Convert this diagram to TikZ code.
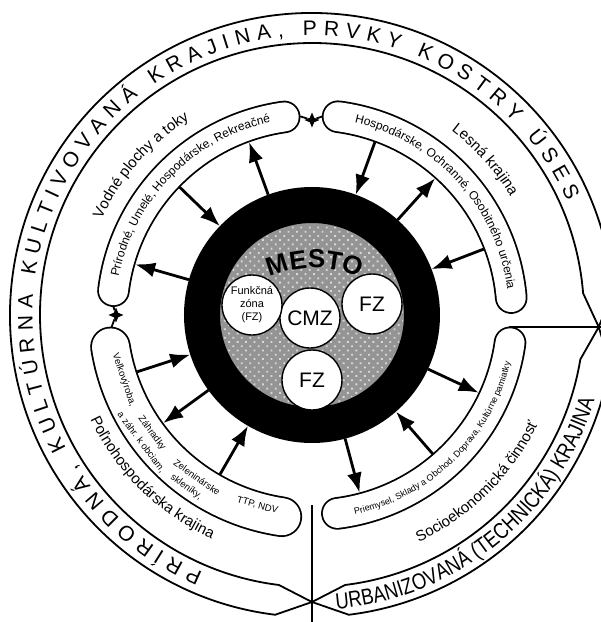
\documentclass[tikz,border=0pt]{standalone}
\usepackage{fontspec}
\setmainfont{Liberation Sans}
\newfontfamily\narrowfont[FakeStretch=0.82]{Liberation Sans}
\usetikzlibrary{arrows.meta,decorations.text,shapes.geometric,patterns.meta}
\newcommand\pasfont{\fontsize{21}{21}\selectfont}
\newcommand\urbfont{\narrowfont\fontsize{22.5}{23}\selectfont}
\newcommand\titlefont{\fontsize{15}{15}\selectfont}
\newcommand\listfont{\fontsize{12}{12}\selectfont}
\newcommand\malyfont{\fontsize{9}{9}\selectfont}
\newcommand\mestofont{\fontsize{26}{26}\selectfont\bfseries}
\begin{document}
\begin{tikzpicture}[x=1pt,y=1pt,>=Latex,
pas/.style={draw,line width=1.8pt,line join=round},
sausage/.style={double=white,double distance=29pt,line width=1.8pt,line cap=round},
flow/.style={-{Latex[length=20pt,width=15pt]},line width=2.8pt},
joint/.style={line width=1.8pt},
knot/.style={star,star points=4,star point ratio=2.4,fill=black,inner sep=0,minimum size=15pt},
zona/.style={circle,draw,fill=white,line width=1.4pt,minimum size=60pt,inner sep=0,font=\fontsize{21}{21}\selectfont},
polo/.style={inner sep=0,font=\fontsize{9.5}{10}\selectfont}]
\useasboundingbox (-312,-307) rectangle (289,315);
% vonkajsi pas
\draw[pas] (357.6:287pt) -- (4.6:272pt) arc[start angle=4.6,end angle=263,radius=272pt] -- (270:287pt) -- (263:302pt) arc[start angle=263,end angle=4.6,radius=302pt] -- cycle;
\draw[pas] (270:287pt) -- (277:272pt) arc[start angle=277,end angle=350.6,radius=272pt] -- (357.6:287pt) -- (350.6:302pt) arc[start angle=350.6,end angle=277,radius=302pt] -- cycle;
\coordinate (socTip) at (197,-12);
\coordinate (okrajR) at (300,-12);
\coordinate (dolTip) at (0,-190);
\coordinate (okrajD) at (0,-312);
\draw[joint] (socTip) -- (okrajR);
\draw[joint] (dolTip) -- (okrajD);
% vnutorne pasy
\draw[sausage] (98:200pt) arc[start angle=98,end angle=173,radius=200pt];
\draw[sausage] (5:200pt) arc[start angle=5,end angle=82.5,radius=200pt];
\draw[sausage] (-82.7:200pt) arc[start angle=-82.7,end angle=-8,radius=200pt];
\draw[sausage,double distance=37pt] (189:204pt) arc[start angle=189,end angle=261.5,radius=204pt];
\node[knot] (k1) at (90:195pt) {};
\node[knot] (k2) at (180:196pt) {};
\coordinate (vodT) at (93.4:199pt);
\coordinate (lesT) at (86.9:199pt);
\coordinate (vodL) at (177.4:199pt);
\coordinate (polL) at (183.6:201pt);
\draw[joint] (vodT) -- (k1) -- (lesT);
\draw[joint] (vodL) -- (k2) -- (polL);
% mesto
\node[circle,draw=black,line width=36pt,outer sep=18pt,fill=black!42,minimum size=220pt,inner sep=0] (mesto) at (0,0) {};
\fill[pattern={Dots[radius=1.3pt,distance=6pt,angle=45]},pattern color=white!85!black] (0,0) circle[radius=91pt];
\node[circle,minimum size=368pt,inner sep=0,outer sep=0] (pasy) at (0,0) {};
\node[zona] (cmz) at (-2,-3) {CMZ};
\node[zona] (fzp) at (60,11) {FZ};
\node[zona] (fzd) at (0,-65) {FZ};
\node[zona,font=\fontsize{11}{13}\selectfont,align=center] (fzl) at (-60,10) {Funkčná\\zóna\\(FZ)};
\path[decorate,decoration={text along path,text align=center,text={|\mestofont|MESTO}}] (3,-65) ++(135:112pt) arc[start angle=135,end angle=45,radius=112pt];
% sipky
\draw[flow] (pasy.136) -- (mesto.136);
\draw[flow] (mesto.110) -- (pasy.110);
\draw[flow] (mesto.164) -- (pasy.164);
\draw[flow] (pasy.70) -- (mesto.70);
\draw[flow] (mesto.48) -- (pasy.48);
\draw[flow] (pasy.21) -- (mesto.21);
\draw[flow] (mesto.335) -- (pasy.335);
\draw[flow] (pasy.311) -- (mesto.311);
\draw[flow] (mesto.285) -- (pasy.285);
\draw[flow] (pasy.198) -- (mesto.198);
\draw[flow] (mesto.216) -- (pasy.216);
\draw[flow] (pasy.240) -- (mesto.240);
% texty
\path[decorate,decoration={text along path,text align={fit to path},text={|\pasfont|PRÍRODNÁ, KULTÚRNA KULTIVOVANÁ KRAJINA, PRVKY KOSTRY ÚSES}}] (247:279.5pt) arc[start angle=247,end angle=24,radius=279.5pt];
\path[decorate,decoration={text along path,text align=center,text={|\urbfont|URBANIZOVANÁ (TECHNICKÁ) KRAJINA}}] (-86:295pt) arc[start angle=-86,end angle=-16,radius=295pt];
\path[decorate,decoration={text along path,text align=center,text={|\titlefont|Vodné plochy a toky}}] (168.8:231pt) arc[start angle=168.8,end angle=108.8,radius=231pt];
\path[decorate,decoration={text along path,text align=center,text={|\titlefont|Lesná krajina}}] (71.8:231pt) arc[start angle=71.8,end angle=11.8,radius=231pt];
\path[decorate,decoration={text along path,text align=center,text={|\titlefont|Socioekonomická činnosť}}] (-75.3:251pt) arc[start angle=-75.3,end angle=-15.3,radius=251pt];
\path[decorate,decoration={text along path,text align=center,text={|\titlefont|Poľnohospodárska krajina}}] (195.5:245pt) arc[start angle=195.5,end angle=255.5,radius=245pt];
\path[decorate,decoration={text along path,text align=center,text={|\listfont|Prírodné, Umelé, Hospodárske, Rekreačné}}] (175:197pt) arc[start angle=175,end angle=96,radius=197pt];
\path[decorate,decoration={text along path,text align=center,text={|\listfont|Hospodárske, Ochranné, Osobitného určenia}}] (85:197pt) arc[start angle=85,end angle=0,radius=197pt];
\path[decorate,decoration={text along path,text align=center,text={|\malyfont|Priemysel, Sklady a Obchod, Doprava, Kultúrne pamiatky}}] (-84:204pt) arc[start angle=-84,end angle=-7.4,radius=204pt];
\node[polo,rotate=289] (p1) at (199:199pt) {Veľkovýroba,};
\node[polo,rotate=306.5] (p2) at (216.5:199pt) {Záhradky};
\node[polo,rotate=306.7] (p3) at (216.7:213pt) {a záhr. k obciam,};
\node[polo,rotate=324.7] (p4) at (234.7:199pt) {Zeleninárske};
\node[polo,rotate=323.8] (p5) at (233.8:213pt) {skleníky,};
\node[polo,rotate=344] (p6) at (254:198pt) {TTP, NDV};
\end{tikzpicture}
\end{document}
